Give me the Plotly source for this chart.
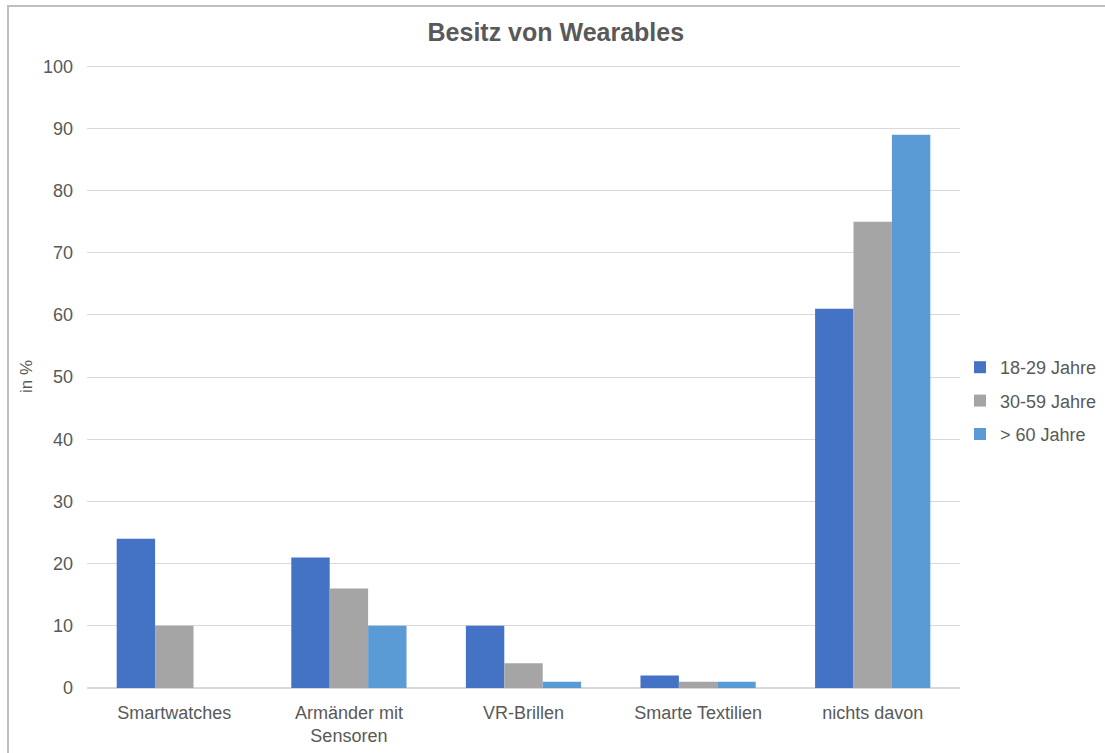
import plotly.graph_objects as go

categories = ["Smartwatches", "Armänder mit<br>Sensoren", "VR-Brillen", "Smarte Textilien", "nichts davon"]
series_names = ["18-29 Jahre", "30-59 Jahre", "> 60 Jahre"]
vals_18_29 = [24, 21, 10, 2, 61]
vals_30_59 = [10, 16, 4, 1, 75]
vals_60 = [0, 10, 1, 1, 89]
colors = ["#4472C4", "#A5A5A5", "#5B9BD5"]

W, H = 1105, 753
ml, mr, mt, mb = 87, 145, 65, 65
pw, ph = W - ml - mr, H - mt - mb

fig = go.Figure()
for i, (name, vals, c) in enumerate(zip(series_names, [vals_18_29, vals_30_59, vals_60], colors)):
    fig.add_trace(go.Bar(x=categories, y=vals, name=name, legendgroup=f"g{i}",
                         marker=dict(color=c, line=dict(width=0))))

font_color = "#595959"
fig.update_layout(
    width=W, height=H,
    margin=dict(l=ml, r=mr, t=mt, b=mb, autoexpand=False),
    paper_bgcolor="white", plot_bgcolor="white",
    barmode="group", bargap=0.34, bargroupgap=0,
    font=dict(family="Liberation Sans, Arial", size=18, color=font_color),
    title=dict(text="<b>Besitz von Wearables</b>", x=0.503, xanchor="center", y=1 - 32 / H, yanchor="middle",
               font=dict(size=25, color=font_color)),
    legend=dict(x=(960 - ml) / pw, xanchor="left", y=(688 - 401) / ph, yanchor="middle",
                font=dict(size=18, color=font_color), itemwidth=30, tracegroupgap=7,
                traceorder="grouped"),
    showlegend=True,
)
fig.update_yaxes(range=[0, 100.2], tickvals=list(range(0, 101, 10)), showgrid=True, gridcolor="#D9D9D9", gridwidth=1,
                 zeroline=True, zerolinecolor="#D9D9D9", showline=False, ticks="",
                 tickfont=dict(size=18, color=font_color), ticklabelstandoff=13,
                 title=dict(text="in %", font=dict(size=17, color=font_color), standoff=6))
fig.update_xaxes(showline=False, ticks="", tickfont=dict(size=18, color=font_color), tickangle=0,
                 ticklabelstandoff=12)

# outer chart border
fig.add_shape(type="rect", xref="paper", yref="paper",
              x0=(8 - ml) / pw, x1=(W + 20 - ml) / pw,
              y0=-(H + 20 - (mt + ph)) / ph, y1=1 + (mt - 6) / ph,
              line=dict(color="#BFBFBF", width=2), fillcolor="rgba(0,0,0,0)", layer="below")

fig.write_html("out.html")
